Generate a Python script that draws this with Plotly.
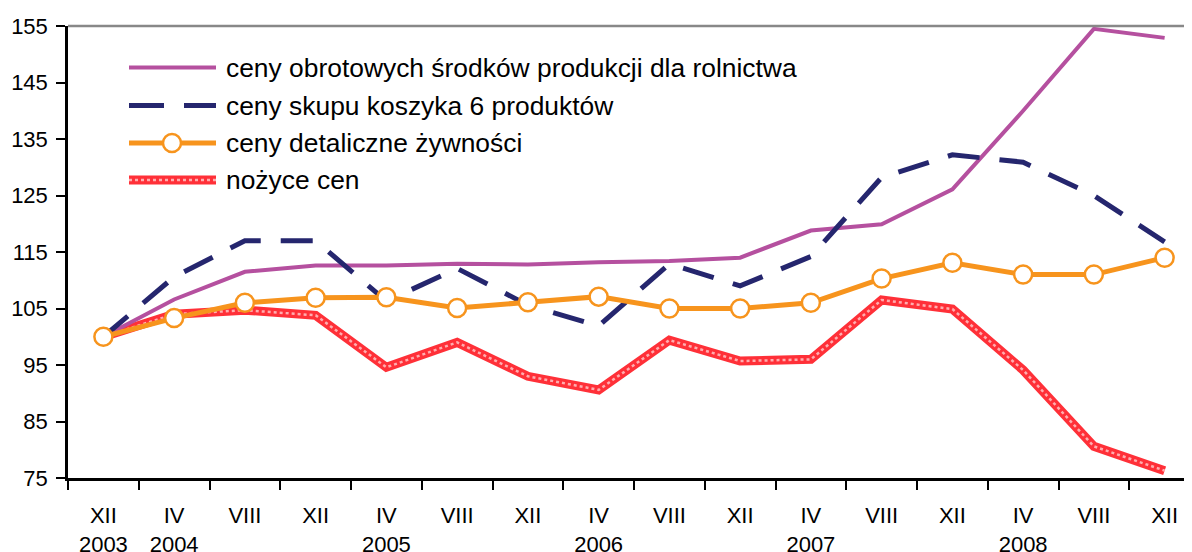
import plotly.graph_objects as go

months = ["XII", "IV", "VIII", "XII", "IV", "VIII", "XII", "IV", "VIII", "XII", "IV", "VIII", "XII", "IV", "VIII", "XII"]
years = ["2003", "2004", "", "", "2005", "", "", "2006", "", "", "2007", "", "", "2008", "", ""]
tick_labels = [m + "<br>" + (y if y else " ") for m, y in zip(months, years)]
positions = list(range(len(months)))

obrotowe = [100, 106.6, 111.5, 112.6, 112.6, 112.9, 112.8, 113.2, 113.4, 114.0, 118.8, 119.9, 126.1, 140.0, 154.5, 152.9]
skup = [100, 110.6, 117.0, 117.0, 106.3, 112.1, 105.6, 101.9, 112.9, 109.0, 114.2, 128.2, 132.2, 130.9, 125.0, 116.8]
detal = [100, 103.3, 106.0, 106.9, 107.0, 105.1, 106.1, 107.1, 105.0, 105.0, 106.0, 110.3, 113.1, 111.0, 111.0, 114.0]
nozyce = [100, 104.0, 104.7, 103.8, 94.6, 99.0, 93.0, 90.6, 99.4, 95.7, 96.0, 106.5, 104.9, 94.1, 80.6, 76.3]

series_names = ["ceny obrotowych środków produkcji dla rolnictwa",
                "ceny skupu koszyka 6 produktów",
                "ceny detaliczne żywności",
                "nożyce cen"]

C_MAG = "#b5509f"
C_NAVY = "#25266e"
C_ORANGE = "#f7941d"
C_RED = "#ff3038"
C_RED_DOT = "rgba(255,215,215,0.75)"

# page body adds an 8px offset; size the figure to fill the rest of the window
OFF = 8
W, H = 1192 - OFF, 552 - OFF
L, R, T, B = 68 - OFF, 0, 26 - OFF, 552 - 478
PW, PH = W - L - R, H - T - B
step = 70.75

fig = go.Figure()
fig.add_trace(go.Scatter(x=positions, y=nozyce, mode="lines", line=dict(color=C_RED, width=9), showlegend=False))
fig.add_trace(go.Scatter(x=positions, y=nozyce, mode="lines", line=dict(color=C_RED_DOT, width=2.5, dash="dot"), showlegend=False, hoverinfo="skip"))
fig.add_trace(go.Scatter(x=positions, y=obrotowe, mode="lines", line=dict(color=C_MAG, width=4), showlegend=False))
fig.add_trace(go.Scatter(x=positions, y=skup, mode="lines", line=dict(color=C_NAVY, width=5, dash="32px,20px"), showlegend=False))
fig.add_trace(go.Scatter(x=positions, y=detal, mode="lines+markers", line=dict(color=C_ORANGE, width=5),
                         marker=dict(symbol="circle", size=18, color="white", line=dict(color=C_ORANGE, width=2.5)),
                         showlegend=False))

# convert screen pixels to paper coordinates
def px_x(p):
    return (p - OFF - L) / PW

def px_y(p):
    return (H - B - (p - OFF)) / PH

shapes = []
annotations = []
shapes.append(dict(type="line", xref="paper", yref="paper", x0=0, x1=1, y0=1, y1=1, line=dict(color="#888888", width=2.5)))

rows = [67.5, 105.5, 143, 180]
lx0, lx1 = px_x(129), px_x(216)
shapes.append(dict(type="line", xref="paper", yref="paper", x0=lx0, x1=lx1, y0=px_y(rows[0]), y1=px_y(rows[0]), line=dict(color=C_MAG, width=4)))
shapes.append(dict(type="line", xref="paper", yref="paper", x0=lx0, x1=lx1, y0=px_y(rows[1]), y1=px_y(rows[1]), line=dict(color=C_NAVY, width=5, dash="35px,20px")))
shapes.append(dict(type="line", xref="paper", yref="paper", x0=lx0, x1=lx1, y0=px_y(rows[2]), y1=px_y(rows[2]), line=dict(color=C_ORANGE, width=5)))
shapes.append(dict(type="circle", xref="paper", yref="paper", xsizemode="pixel", ysizemode="pixel",
                   xanchor=px_x(172), yanchor=px_y(rows[2]), x0=-9, x1=9, y0=-9, y1=9,
                   fillcolor="white", line=dict(color=C_ORANGE, width=2.5)))
shapes.append(dict(type="line", xref="paper", yref="paper", x0=lx0, x1=lx1, y0=px_y(rows[3]), y1=px_y(rows[3]), line=dict(color=C_RED, width=9)))
shapes.append(dict(type="line", xref="paper", yref="paper", x0=lx0, x1=lx1, y0=px_y(rows[3]), y1=px_y(rows[3]), line=dict(color=C_RED_DOT, width=2.5, dash="dot")))

for name, ry in zip(series_names, rows):
    annotations.append(dict(text=name, xref="paper", yref="paper", x=px_x(224), y=px_y(ry),
                            xanchor="left", yanchor="middle", showarrow=False,
                            font=dict(size=26.4, color="black", family="Liberation Sans, Arial, sans-serif")))

fig.update_layout(
    width=W, height=H,
    margin=dict(l=L, r=R, t=T, b=B, pad=0),
    paper_bgcolor="white", plot_bgcolor="white",
    font=dict(family="Liberation Sans, Arial, sans-serif", size=22, color="black"),
    shapes=shapes, annotations=annotations,
    showlegend=False,
    xaxis=dict(range=[-0.5, -0.5 + PW / step], tickmode="array", tickvals=positions, ticktext=tick_labels,
               showline=True, linecolor="black", linewidth=2.5,
               ticks="", showgrid=False, zeroline=False, tickangle=0, automargin=False,
               minor=dict(ticks="outside", tick0=-0.5, dtick=1, ticklen=9, tickwidth=2, tickcolor="black", showgrid=False),
               tickfont=dict(size=22), ticklabelstandoff=16),
    yaxis=dict(range=[75, 155], tickvals=list(range(75, 156, 10)),
               showline=True, linecolor="black", linewidth=2.5,
               ticks="outside", ticklen=9, tickwidth=2, tickcolor="black",
               showgrid=False, zeroline=False, automargin=False,
               tickfont=dict(size=22), ticklabelstandoff=4),
)

fig.write_html("out.html")
